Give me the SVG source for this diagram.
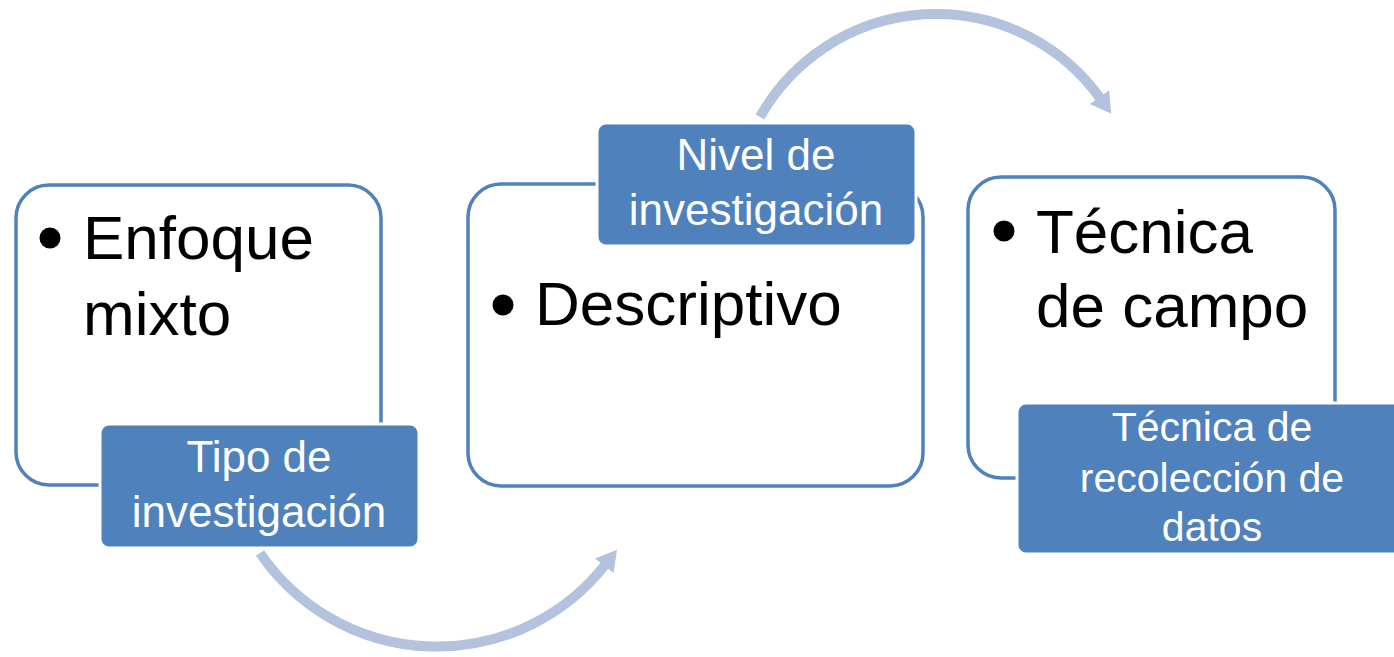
<svg xmlns="http://www.w3.org/2000/svg" width="1394" height="657" viewBox="0 0 1394 657">
<style>
.outer{fill:#fff;stroke:#4F81BD;stroke-width:3.5}
.label{fill:#4F81BD;stroke:#fff;stroke-width:3}
.body{font-family:"Liberation Sans",Arial,sans-serif;font-size:62px;fill:#000}
.lt{font-family:"Liberation Sans",Arial,sans-serif;font-size:44px;fill:#fff;text-anchor:middle}
.lt3{font-size:41px}
.arc{fill:none;stroke:#B3C3DE;stroke-width:10}
</style>
<defs>
<marker id="ah" markerUnits="userSpaceOnUse" markerWidth="24" markerHeight="28" viewBox="0 -13 22 26" refX="1" refY="0" orient="auto">
<path d="M0,-11 L19,0 L0,11 Z" fill="#B3C3DE"/>
</marker>
</defs>
<g id="connectors">
<path class="arc" d="M260,553 A214,214 0 0 0 605,565" marker-end="url(#ah)"/>
<path class="arc" d="M760,117 A202,202 0 0 1 1100,98" marker-end="url(#ah)"/>
</g>
<g id="node1">
<rect class="outer" x="16" y="185" width="365" height="300" rx="33"/>
<circle cx="50" cy="238" r="10.5"/>
<text class="body" x="83" y="259">Enfoque</text>
<text class="body" x="83" y="335">mixto</text>
<rect class="label" x="100" y="424" width="319" height="124" rx="9"/>
<text class="lt" x="259" y="472">Tipo de</text>
<text class="lt" x="259" y="527">investigación</text>
</g>
<g id="node2">
<rect class="outer" x="468" y="184" width="455" height="302" rx="33"/>
<circle cx="503" cy="305" r="10.5"/>
<text class="body" x="535" y="325">Descriptivo</text>
<rect class="label" x="597" y="123" width="319" height="123" rx="9"/>
<text class="lt" x="756" y="170">Nivel de</text>
<text class="lt" x="756" y="225">investigación</text>
</g>
<g id="node3">
<rect class="outer" x="968" y="177" width="367" height="301" rx="33"/>
<circle cx="1004" cy="231" r="10.5"/>
<text class="body" x="1036" y="253">Técnica</text>
<text class="body" x="1036" y="327">de campo</text>
<rect class="label" x="1017" y="403" width="390" height="151" rx="9"/>
<text class="lt lt3" x="1212" y="441">Técnica de</text>
<text class="lt lt3" x="1212" y="492">recolección de</text>
<text class="lt lt3" x="1212" y="541">datos</text>
</g>
</svg>
